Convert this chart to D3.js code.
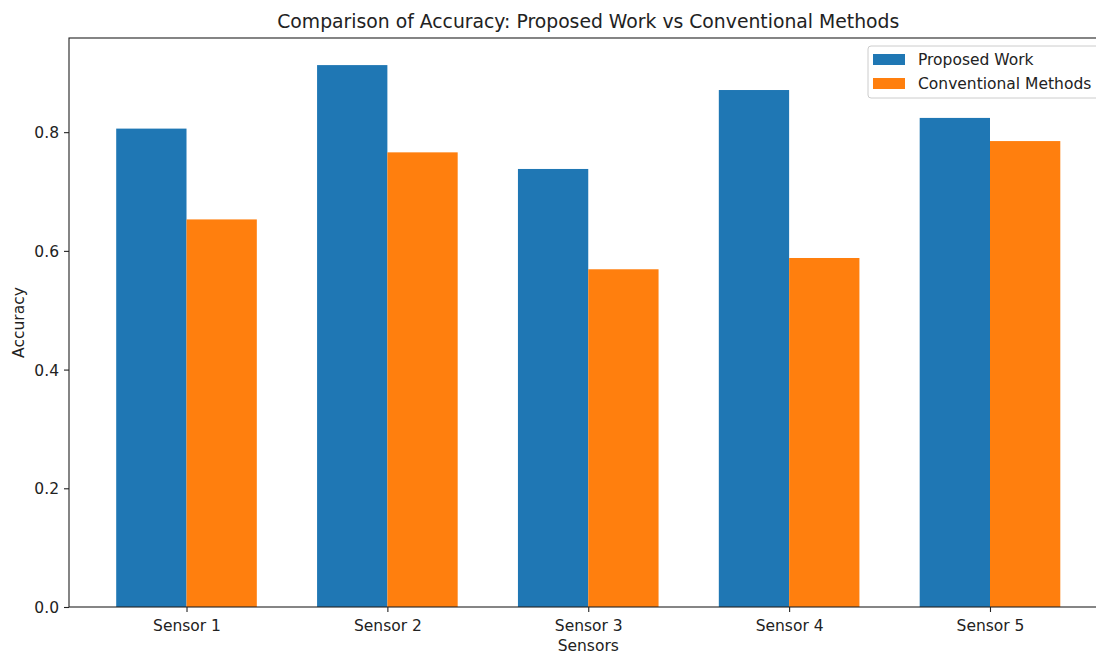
<!DOCTYPE html>
<html><head><meta charset="utf-8">
<script src="https://cdn.jsdelivr.net/npm/d3@7"></script>
<style>body{margin:0;background:#fff}svg{display:block}text{font-family:"DejaVu Sans",sans-serif;fill:#222}</style>
</head><body><svg id="c" width="1096" height="654"></svg>
<script>
const categories = ["Sensor 1","Sensor 2","Sensor 3","Sensor 4","Sensor 5"];
const proposed = [0.806, 0.913, 0.738, 0.871, 0.824];
const conventional = [0.653, 0.766, 0.569, 0.588, 0.785];
const seriesNames = ["Proposed Work","Conventional Methods"];
const colors = ["#1f77b4","#ff7f0e"];
const yTicks = [0.0,0.2,0.4,0.6,0.8];

const svg = d3.select("#c");
const L=69, R=1107.5, T=38, B=607;
const bw = 0.35;
const FS = 15.5;
const x = d3.scaleLinear().domain([-0.585, 4.585]).range([L,R]);
const ymax = Math.max(...proposed, ...conventional)*1.05;
const y = d3.scaleLinear().domain([0, ymax]).range([B,T]);

const series=[proposed, conventional];
series.forEach((vals,si)=>{
  svg.append("g").selectAll("rect").data(vals).join("rect")
    .attr("x",(d,i)=>x(i + (si===0 ? -bw : 0)))
    .attr("width",x(bw)-x(0))
    .attr("y",d=>y(d)).attr("height",d=>B-y(d))
    .attr("fill",colors[si]);
});

const xAxis = d3.axisBottom(x).tickValues(categories.map((c,i)=>i)).tickFormat((d)=>categories[d]).tickSize(5).tickSizeOuter(0);
const gx = svg.append("g").attr("transform",`translate(0,${B})`).call(xAxis);
const yAxis = d3.axisLeft(y).tickValues(yTicks).tickFormat(d3.format(".1f")).tickSize(5).tickSizeOuter(0);
const gy = svg.append("g").attr("transform",`translate(${L},0)`).call(yAxis);
[gx,gy].forEach(g=>{
  g.selectAll("text").attr("font-size",FS).style("font-family","DejaVu Sans").attr("fill","#222");
  g.selectAll("line").attr("stroke","#222").attr("stroke-width",1.1);
  g.select(".domain").remove();
});
gx.selectAll("text").attr("y",9).attr("dy","0.95em");
gy.selectAll("text").attr("x",-10).attr("dy","0.35em");
// spines
svg.append("rect").attr("x",L).attr("y",T).attr("width",R-L).attr("height",B-T)
  .attr("fill","none").attr("stroke","#222").attr("stroke-width",1.1);

svg.append("text").attr("x",(L+R)/2).attr("y",28).attr("text-anchor","middle").attr("font-size",18.8).text("Comparison of Accuracy: Proposed Work vs Conventional Methods");
svg.append("text").attr("x",(L+R)/2).attr("y",651).attr("text-anchor","middle").attr("font-size",FS).text("Sensors");
svg.append("text").attr("transform",`translate(24,${(T+B)/2}) rotate(-90)`).attr("text-anchor","middle").attr("font-size",FS).text("Accuracy");

// legend
const lg = svg.append("g");
lg.append("rect").attr("x",868).attr("y",46).attr("width",236).attr("height",52).attr("rx",3)
  .attr("fill","#fff").attr("fill-opacity",0.8).attr("stroke","#ccc");
seriesNames.forEach((n,i)=>{
  lg.append("rect").attr("x",873).attr("y",54+i*24).attr("width",32).attr("height",11).attr("fill",colors[i]);
  lg.append("text").attr("x",918).attr("y",65+i*24).attr("font-size",FS).text(n);
});
</script></body></html>
